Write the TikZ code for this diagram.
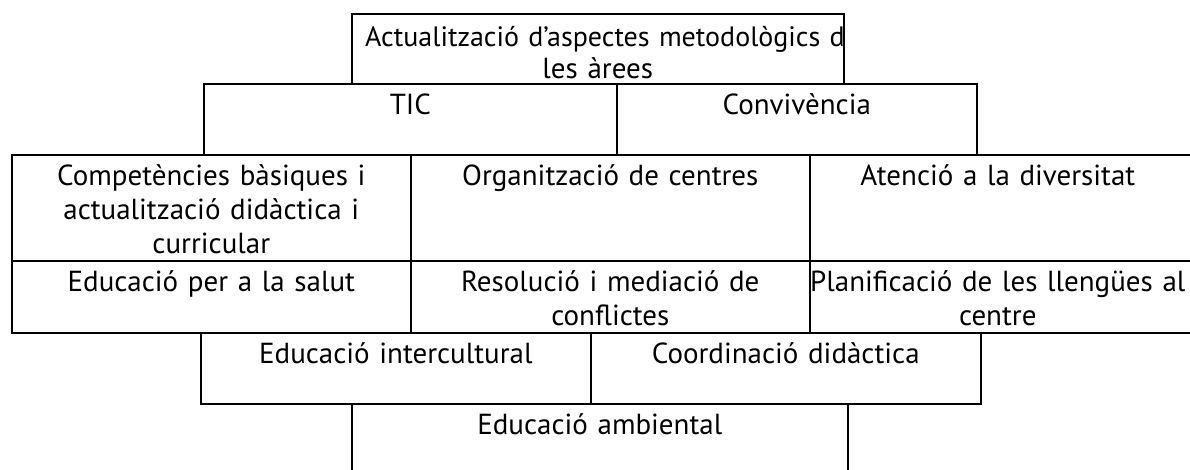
\documentclass[tikz,border=0pt]{standalone}
\usepackage{fontspec}
\setmainfont{PT Sans}
\usetikzlibrary{positioning}

\tikzset{
  cell/.style={draw, line width=1.6pt, inner sep=0pt, anchor=north west},
  lbl/.style={align=center, text width=380pt, inner sep=0pt, font=\fontsize{29}{34}\selectfont,
    execute at begin node={\rule{0pt}{27pt}}},
}

\begin{document}
\begin{tikzpicture}[x=1pt,y=-1pt,node distance=4pt]
    \useasboundingbox (0,0) rectangle (1190,469);
    % row 1
    \node[cell, minimum width=492pt, minimum height=70pt] (areas) at (351,13) {};
    % row 2
    \node[cell, minimum width=413pt, minimum height=71pt] (tic)  at (203,83) {};
    \node[cell, minimum width=360pt, minimum height=71pt] (conv) at (616,83) {};
    % row 3
    \node[cell, minimum width=399pt, minimum height=106pt] (comp) at (11,154) {};
    \node[cell, minimum width=399pt, minimum height=106pt] (org)  at (410,154) {};
    \node[cell, minimum width=390pt, minimum height=106pt] (aten) at (809,154) {};
    % row 4
    \node[cell, minimum width=399pt, minimum height=72pt] (salut) at (11,260) {};
    \node[cell, minimum width=399pt, minimum height=72pt] (confl) at (410,260) {};
    \node[cell, minimum width=390pt, minimum height=72pt] (lleng) at (809,260) {};
    % row 5
    \node[cell, minimum width=390pt, minimum height=71pt] (inter) at (200,332) {};
    \node[cell, minimum width=390pt, minimum height=71pt] (coord) at (590,332) {};
    % row 6
    \node[cell, minimum width=496pt, minimum height=75pt] (amb) at (351,403) {};

    % texts
    \begin{scope}
        \clip (areas.north west) rectangle (areas.south east);
        \node[lbl, align=left, text width=600pt, font=\fontsize{28}{31}\selectfont, anchor=north west] (areasA) at ([xshift=14pt,yshift=-6pt]areas.north west) {Actualització d’aspectes metodològics de};
    \end{scope}
    \node[lbl, anchor=north] (areasB) at ([yshift=-38pt]areas.north) {les àrees};
    \node[lbl, below=of tic.north]   (ticT)   {TIC};
    \node[lbl, below=of conv.north]  (convT)  {Convivència};
    \node[lbl, below=of comp.north]  (compT)  {Competències bàsiques i\\actualització didàctica i\\curricular};
    \node[lbl, below=of org.north]   (orgT)   {Organització de centres};
    \node[lbl, below=of aten.north, xshift=-7pt]  (atenT)  {Atenció a la diversitat};
    \node[lbl, below=of salut.north] (salutT) {Educació per a la salut};
    \node[lbl, below=of confl.north] (conflT) {Resolució i mediació de\\conflictes};
    \node[lbl, below=of lleng.north, xshift=-7pt] (llengT) {Planificació de les llengües al\\centre};
    \node[lbl, below=of inter.north] (interT) {Educació intercultural};
    \node[lbl, below=of coord.north] (coordT) {Coordinació didàctica};
    \node[lbl, below=of amb.north]   (ambT)   {Educació ambiental};
\end{tikzpicture}
\end{document}
